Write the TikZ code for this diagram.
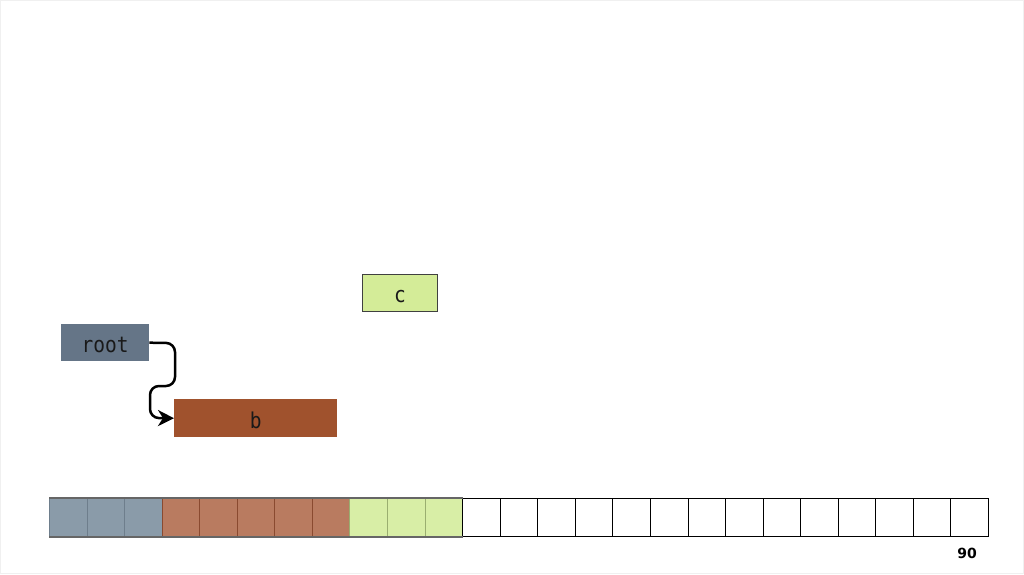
\documentclass[tikz,border=0pt]{standalone}
\usepackage{fontspec}
\newfontfamily\monofont{DejaVu Sans Mono}
\newfontfamily\numfont{DejaVu Sans}
\usetikzlibrary{arrows.meta}
\definecolor{rootc}{HTML}{657587}
\definecolor{bc}{HTML}{A0522D}
\definecolor{cc}{HTML}{D4EC98}
\definecolor{cellgray}{HTML}{8A9BA9}
\definecolor{cellgrayb}{HTML}{6E7E8C}
\definecolor{cellbrown}{HTML}{B97B60}
\definecolor{cellbrownb}{HTML}{8A4A30}
\definecolor{cellgreen}{HTML}{D8EEA6}
\definecolor{cellgreenb}{HTML}{9AAE70}
\tikzset{
  objbox/.style={inner sep=0pt, anchor=north west},
  objtext/.style={font=\monofont\fontsize{19.5}{21}\selectfont, text=black!90, inner sep=0pt, anchor=base},
  cellbox/.style={draw=black, line width=1pt, minimum width=37.56pt, minimum height=38pt, inner sep=0pt, anchor=north west},
  ptr/.style={line width=2.5pt, rounded corners=9pt, -{Stealth[length=16pt,width=16pt,inset=5pt]}}
}
\begin{document}
\begin{tikzpicture}[x=1pt,y=-1pt]
\useasboundingbox (0,0) rectangle (1024,574);
\fill[white] (0,0) rectangle (1024,574);
\draw[black!6, line width=0.6pt] (0.5,0.5) rectangle (1023.5,573.5);
% objects
\node[objbox, fill=rootc, minimum width=88pt, minimum height=37pt] (root) at (61,324) {};
\node[objbox, fill=bc, minimum width=163pt, minimum height=38pt] (b) at (174,399) {};
\node[objbox, fill=cc, draw=black!75, line width=0.8pt, minimum width=75pt, minimum height=37pt] (c) at (362,274) {};
\node[objtext] (roott) at ([yshift=-10pt]root.center) {\scalebox{1}[1.12]{root}};
\node[objtext] (bt) at ([yshift=-10pt]b.center) {\scalebox{1}[1.12]{b}};
\node[objtext] (ct) at ([yshift=-10pt]c.center) {\scalebox{1}[1.12]{c}};
% pointer
\draw[ptr] (root.east) -- (175,343) -- (175,386) -- (150,386) -- (150,418) -- (b.west);
% memory strip
\foreach \i in {0,...,24} {
  \pgfmathsetmacro{\xx}{49+\i*37.56}
  \ifnum\i<3
    \node[cellbox, fill=cellgray, draw=cellgrayb] (m\i) at (\xx,498) {};
  \else\ifnum\i<8
    \node[cellbox, fill=cellbrown, draw=cellbrownb] (m\i) at (\xx,498) {};
  \else\ifnum\i<11
    \node[cellbox, fill=cellgreen, draw=cellgreenb] (m\i) at (\xx,498) {};
  \else
    \node[cellbox, fill=white] (m\i) at (\xx,498) {};
  \fi\fi\fi
}
\draw[black!60, line width=1.2pt] (m0.north west) -- (m10.north east);
\draw[black!60, line width=1.2pt] (m0.south west) -- (m10.south east);
% page number
\node[font=\numfont\bfseries\fontsize{14}{16}\selectfont] (pn) at (967,553) {90};
\end{tikzpicture}
\end{document}
